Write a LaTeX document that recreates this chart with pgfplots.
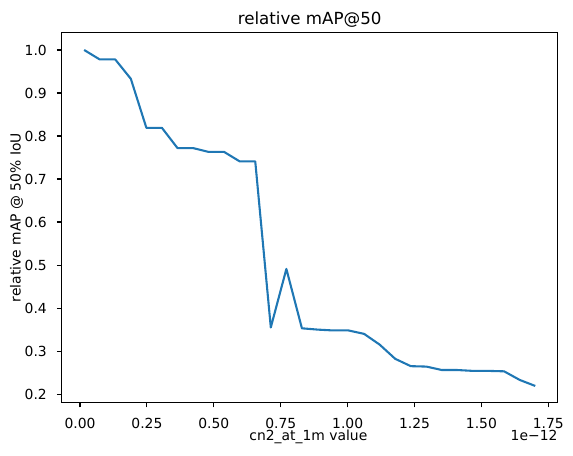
\documentclass[border=0pt]{standalone}
\usepackage{fontspec}
\setmainfont{DejaVu Sans}
\usepackage{pgfplots}
\pgfplotsset{compat=1.18}
\definecolor{tabblue}{HTML}{1F77B4}
\begin{document}
\begin{tikzpicture}
\begin{axis}[
  at={(0,0)}, anchor=south west,
  scale only axis, width=357.1pt, height=266.1pt,
  xmin=-0.0685, xmax=1.785, ymin=0.1807, ymax=1.040,
  xtick={0,0.25,0.5,0.75,1,1.25,1.5,1.75},
  xticklabels={0.00,0.25,0.50,0.75,1.00,1.25,1.50,1.75},
  ytick={0.2,0.3,0.4,0.5,0.6,0.7,0.8,0.9,1.0},
  yticklabels={0.2,0.3,0.4,0.5,0.6,0.7,0.8,0.9,1.0},
  tick pos=left, tick align=outside,
  major tick length=3.5pt,
  tick style={black, line width=0.8pt},
  axis line style={line width=0.8pt},
  /pgf/number format/assume math mode=true,
  tick label style={font=\fontsize{10}{12}\selectfont},
  xticklabel style={anchor=north, inner sep=0pt, yshift=-7.9pt},
  yticklabel style={anchor=east, inner sep=0pt, xshift=-7pt},
  clip=false,
]
\addplot[tabblue, line width=1.5pt, line join=round, mark=none] coordinates {
(0.0155,1.000) (0.0736,0.978) (0.1317,0.978) (0.1899,0.933) (0.2480,0.819)
(0.3061,0.819) (0.3642,0.772) (0.4223,0.772) (0.4805,0.763) (0.5386,0.763)
(0.5967,0.741) (0.6548,0.741) (0.7129,0.355) (0.7711,0.491) (0.8292,0.353)
(0.8873,0.350) (0.9454,0.348) (1.0035,0.348) (1.0617,0.340) (1.1198,0.315)
(1.1779,0.282) (1.2360,0.265) (1.2941,0.264) (1.3523,0.256) (1.4104,0.256)
(1.4685,0.254) (1.5266,0.254) (1.5847,0.253) (1.6429,0.233) (1.7010,0.219)
};
\end{axis}
\node[anchor=base, inner sep=0pt, font=\fontsize{12}{14.4}\selectfont] at (178.55pt,272.1pt) {relative mAP@50};
\node[anchor=base, inner sep=0pt, font=\fontsize{10}{12}\selectfont] at (177.6pt,-27.6pt) {cn2\_at\_1m value};
\node[anchor=base east, inner sep=0pt, font=\fontsize{10}{12}\selectfont] at (357.1pt,-27.6pt) {1e−12};
\node[rotate=90, anchor=center, inner sep=0pt, font=\fontsize{10}{12}\selectfont] at (-32.4pt,133.05pt) {relative mAP @ 50\% IoU};
\pgfresetboundingbox
\path[use as bounding box] (-44.4pt,-37.9pt) rectangle (368.1pt,289.7pt);
\end{tikzpicture}
\end{document}
